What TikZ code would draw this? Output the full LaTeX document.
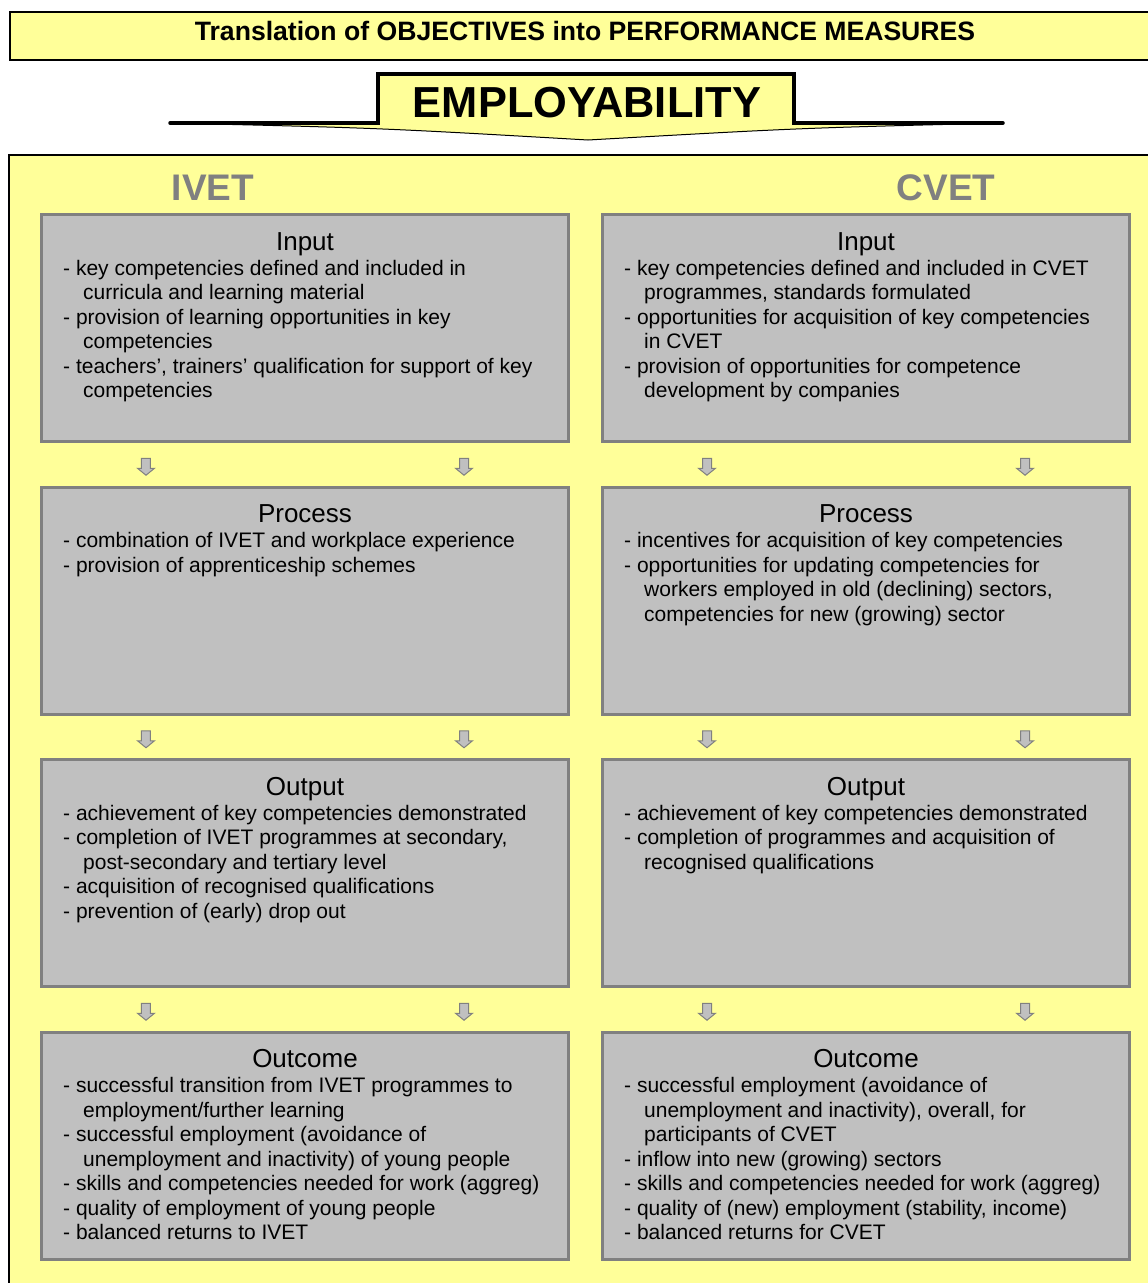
\documentclass[tikz,border=0pt]{standalone}
\usepackage{fontspec}
\setmainfont{Liberation Sans}
\usepackage{tikz}
\usetikzlibrary{
  positioning,  % below=of, right=of
  calc,         % Calculations $...$
}
\definecolor{paleyellow}{HTML}{FFFF99}
\definecolor{boxgray}{HTML}{C0C0C0}
\definecolor{edgegray}{HTML}{808080}
\newcommand{\contline}{\hspace*{20pt}}
\tikzset{
  semithick,
  panel/.style={
    draw=black,
    fill=paleyellow,
    line width=1.5pt
  },
  stagebox/.style={
    draw=edgegray,
    fill=boxgray,
    line width=3pt,
    minimum width=527pt,
    minimum height=227pt,
    inner sep=0pt
  },
  stagetitle/.style={
    font=\fontsize{26}{30}\selectfont,
    inner sep=0pt,
    anchor=base
  },
  stagetext/.style={
    font=\fontsize{21}{24.5}\selectfont,
    align=left,
    inner sep=0pt,
    anchor=north west
  },
  sidelabel/.style={
    font=\fontsize{37}{40}\selectfont\bfseries,
    text=edgegray,
    inner sep=0pt,
    anchor=base
  },
  droparrow/.style={
    draw=edgegray,
    fill=boxgray,
    line width=1pt
  }
}

\begin{document}
\begin{tikzpicture}[x=1pt,y=-1pt,node distance=42.5pt]
\useasboundingbox (0,0) rectangle (1148,1283);
\clip (0,0) rectangle (1148,1283);
% banner
\node[panel,minimum width=1160pt,minimum height=48pt,anchor=north west,inner sep=0pt] (banner) at (9,11) {};
\node[font=\fontsize{26.6}{30}\selectfont\bfseries,anchor=base,inner sep=0pt] (bannertext) at (585,40)
  {Translation of OBJECTIVES into PERFORMANCE MEASURES};
% employability arrow
\fill[paleyellow,draw=black,line width=1pt] (170,123) -- (378,123) -- (378,74) -- (794,74)
  -- (794,123) -- (1003,123) .. controls (800,128) .. (588,140) .. controls (380,128) .. cycle;
\draw[line width=3.5pt,line cap=round] (170,123) -- (378,123) -- (378,74) -- (794,74) -- (794,123) -- (1003,123);
\node[font=\fontsize{43.4}{46}\selectfont\bfseries,anchor=base,inner sep=0pt] (employ) at (587,117) {EMPLOYABILITY};
% main panel
\node[panel,minimum width=1170pt,minimum height=1160pt,anchor=north west,inner sep=0pt] (mainpanel) at (8,154) {};
\node[sidelabel] (ivet) at (213,200) {IVET};
\node[sidelabel] (cvet) at (946,200) {CVET};
% stage boxes
\node[stagebox,anchor=north west] (ivetinput) at (40,213) {};
\node[stagebox,below=of ivetinput] (ivetprocess) {};
\node[stagebox,below=of ivetprocess] (ivetoutput) {};
\node[stagebox,below=of ivetoutput] (ivetoutcome) {};
\node[stagebox,right=31pt of ivetinput] (cvetinput) {};
\node[stagebox,below=of cvetinput] (cvetprocess) {};
\node[stagebox,below=of cvetprocess] (cvetoutput) {};
\node[stagebox,below=of cvetoutput] (cvetoutcome) {};
% titles
\foreach \c in {ivet,cvet} {
  \node[stagetitle] at ($(\c input.north)+(0,37)$) {Input};
  \node[stagetitle] at ($(\c process.north)+(0,37)$) {Process};
  \node[stagetitle] at ($(\c output.north)+(0,37)$) {Output};
  \node[stagetitle] at ($(\c outcome.north)+(0,37)$) {Outcome};
}
% texts
\node[stagetext] (ivetinputtext) at ($(ivetinput.north west)+(23,47)$) {%
- key competencies defined and included in\\
\contline curricula and learning material\\
- provision of learning opportunities in key\\
\contline competencies\\
- teachers’, trainers’ qualification for support of key\\
\contline competencies};
\node[stagetext] (ivetprocesstext) at ($(ivetprocess.north west)+(23,47)$) {%
- combination of IVET and workplace experience\\
- provision of apprenticeship schemes};
\node[stagetext] (ivetoutputtext) at ($(ivetoutput.north west)+(23,47)$) {%
- achievement of key competencies demonstrated\\
- completion of IVET programmes at secondary,\\
\contline post-secondary and tertiary level\\
- acquisition of recognised qualifications\\
- prevention of (early) drop out};
\node[stagetext] (ivetoutcometext) at ($(ivetoutcome.north west)+(23,47)$) {%
- successful transition from IVET programmes to\\
\contline employment/further learning\\
- successful employment (avoidance of\\
\contline unemployment and inactivity) of young people\\
- skills and competencies needed for work (aggreg)\\
- quality of employment of young people\\
- balanced returns to IVET};
\node[stagetext] (cvetinputtext) at ($(cvetinput.north west)+(23,47)$) {%
- key competencies defined and included in CVET\\
\contline programmes, standards formulated\\
- opportunities for acquisition of key competencies\\
\contline in CVET\\
- provision of opportunities for competence\\
\contline development by companies};
\node[stagetext] (cvetprocesstext) at ($(cvetprocess.north west)+(23,47)$) {%
- incentives for acquisition of key competencies\\
- opportunities for updating competencies for\\
\contline workers employed in old (declining) sectors,\\
\contline competencies for new (growing) sector};
\node[stagetext] (cvetoutputtext) at ($(cvetoutput.north west)+(23,47)$) {%
- achievement of key competencies demonstrated\\
- completion of programmes and acquisition of\\
\contline recognised qualifications};
\node[stagetext] (cvetoutcometext) at ($(cvetoutcome.north west)+(23,47)$) {%
- successful employment (avoidance of\\
\contline unemployment and inactivity), overall, for\\
\contline participants of CVET\\
- inflow into new (growing) sectors\\
- skills and competencies needed for work (aggreg)\\
- quality of (new) employment (stability, income)\\
- balanced returns for CVET};
% small arrows between the stages
\foreach \a/\b in {input/process,process/output,output/outcome}
  \foreach \c in {ivet,cvet}
    \foreach \f in {0.2,0.8} {
      \coordinate (m) at ($($(\c\a.south west)!\f!(\c\a.south east)$)!0.5!($(\c\b.north west)!\f!(\c\b.north east)$)+(0,2.5)$);
      \draw[droparrow] ($(m)+(-4.5,-8.5)$) -- ++(9,0) -- ++(0,10) -- ++(4,0)
        -- ++(-8.5,7) -- ++(-8.5,-7) -- ++(4,0) -- cycle;
    }
\end{tikzpicture}
\end{document}
